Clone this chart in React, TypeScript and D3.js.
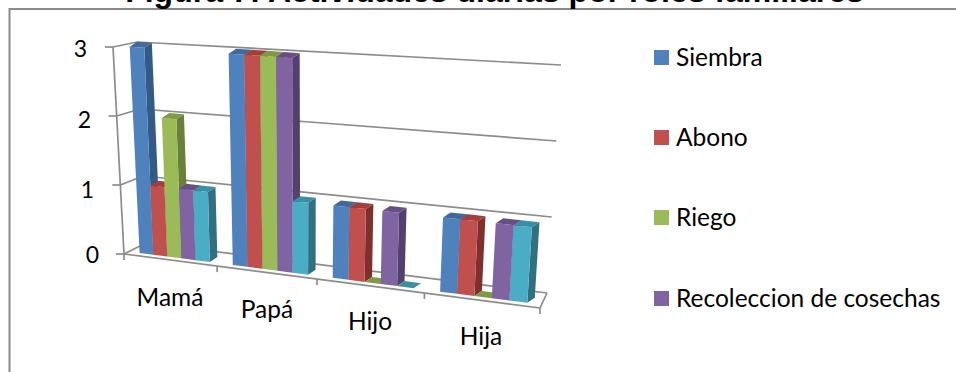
import React from "react";
import * as d3 from "d3";

// Chart content
const titleText = "Figura 7: Actividades diarias por roles familiares";
const categories = ["Mamá", "Papá", "Hijo", "Hija"];
const seriesKeys = ["siembra", "abono", "riego", "recoleccion", "otros"];
const legendLabels = ["Siembra", "Abono", "Riego", "Recoleccion de cosechas"];
const siembra = [3, 3, 1, 1];
const abono = [1, 3, 1, 1];
const riego = [2, 3, 0, 0];
const recoleccion = [1, 3, 1, 1];
const otros = [1, 1, 0, 1];
const seriesValues = [siembra, abono, riego, recoleccion, otros];
const valueTicks = [0, 1, 2, 3];

// Office-style 3D column palette: front, top and side shades
const faceColors = ["#4f81bd", "#c0504d", "#9bbb59", "#8064a2", "#4bacc6"];
const topColors = ["#41699b", "#a23f3c", "#7e9a45", "#674f86", "#3a8fa6"];
const sideColors = ["#355a88", "#7f2f2e", "#68803a", "#54406f", "#30707f"];
const gridColor = "#8c8c8c";
const fontFamily = "Lato, 'Open Sans', sans-serif";

type Pt = [number, number];

// Corners of the plot box: f = front, b = back, l/r = left/right, 0/3 = value
const fl0: Pt = [124, 254];
const fl3: Pt = [113, 47];
const bl0: Pt = [146, 243];
const bl3: Pt = [137, 42];
const fr0: Pt = [540, 308];
const fr3: Pt = [555, 80];
const br0: Pt = [547, 293];
const br3: Pt = [561, 65];

const mix = (a: Pt, b: Pt, t: number): Pt => [a[0] + (b[0] - a[0]) * t, a[1] + (b[1] - a[1]) * t];

const valueScale = d3.scaleLinear().domain([0, 3]).range([0, 1]);
const categoryScale = d3.scaleBand<string>().domain(categories).range([0, 1]);
const seriesScale = d3.scaleBand<string>().domain(seriesKeys).range([0.12, 0.88]);

// Horizontal foreshortening: categories grow wider toward the right of the box
const foreshorten = (u: number) => u / (u + (1 - u) * 1.155);

function project(u: number, value: number, depth: number): Pt {
  const s = foreshorten(u);
  const v = valueScale(value);
  const front = mix(mix(fl0, fr0, s), mix(fl3, fr3, s), v);
  const back = mix(mix(bl0, br0, s), mix(bl3, br3, s), v);
  return mix(front, back, depth);
}

const barDepth = 0.22;
const sideOffset: Pt = [7.5, -5];
const shift = (p: Pt): Pt => [p[0] + sideOffset[0], p[1] + sideOffset[1]];
const path = d3.line<Pt>().curve(d3.curveLinearClosed);
const segment = d3.line<Pt>();

function Bar({ c, s }: { c: number; s: number }) {
  const value = seriesValues[s][c];
  const catStart = categoryScale(categories[c])! as number;
  const w = categoryScale.bandwidth();
  const u0 = catStart + w * (seriesScale(seriesKeys[s])! as number);
  const u1 = u0 + w * seriesScale.bandwidth();
  const bl = project(u0, 0, barDepth);
  const br = project(u1, 0, barDepth);
  const tl = project(u0, value, barDepth);
  const tr = project(u1, value, barDepth);
  return (
    <g>
      {value > 0 && <path d={path([br, shift(br), shift(tr), tr])!} fill={sideColors[s]} />}
      {value > 0 && <path d={path([bl, br, tr, tl])!} fill={faceColors[s]} />}
      <path d={path([tl, tr, shift(tr), shift(tl)])!} fill={topColors[s]} />
    </g>
  );
}

const categoryLabelPos: Pt[] = [[170, 306], [267, 318], [370, 330], [481, 345]];
const tickLabelRight = [99, 94, 91, 87];
const tickLabelBase = [263, 198, 128, 57];
const legendTop = [50, 130, 210, 291];

export default function App() {
  const line = (a: Pt, b: Pt, key: string) => (
    <path key={key} d={segment([a, b])!} fill="none" stroke={gridColor} strokeWidth={1.7} />
  );
  return (
    <svg
      width={956}
      height={372}
      viewBox="0 0 956 372"
      style={{ position: "absolute", left: 0, top: 0, display: "block", background: "#fff" }}
    >
      {/* chart frame: only the top and left edges fall inside the view */}
      <path d="M9.5,372V9H956" fill="none" stroke="#8a8a8a" strokeWidth={2} />
      <text
        x={494.5}
        y={1.5}
        textAnchor="middle"
        fontFamily="'Liberation Sans', Arial, sans-serif"
        fontWeight={700}
        fontSize={32}
        fill="#000"
      >
        {titleText}
      </text>

      {/* walls and floor */}
      {valueTicks.map((t) => {
        const a = project(0, t, 0);
        const b = project(0, t, 1);
        const c = project(1, t, 1);
        return (
          <g key={t}>
            {line([a[0] - 8, a[1]], a, `tick${t}`)}
            {line(a, b, `side${t}`)}
            {line(b, c, `back${t}`)}
          </g>
        );
      })}
      {line(project(0, 0, 0), project(0, 3, 0), "axis")}
      {line(project(0, 0, 0), project(1, 0, 0), "front")}
      {line(project(1, 0, 0), project(1, 0, 1), "right")}
      {d3.range(categories.length + 1).map((i) => {
        const p = project(i / categories.length, 0, 0);
        return line(p, [p[0], p[1] + 6], `cat${i}`);
      })}

      {/* columns, painted left to right so each face covers its neighbour's side */}
      {categories.map((_, c) => seriesKeys.map((_, s) => <Bar key={`${c}-${s}`} c={c} s={s} />))}

      {valueTicks.map((t, i) => (
        <text key={t} x={tickLabelRight[i]} y={tickLabelBase[i]} textAnchor="end" fontFamily={fontFamily} fontSize={23} fill="#000">
          {t}
        </text>
      ))}
      {categories.map((name, i) => (
        <text key={name} x={categoryLabelPos[i][0]} y={categoryLabelPos[i][1]} textAnchor="middle" fontFamily={fontFamily} fontSize={24.5} fill="#000">
          {name}
        </text>
      ))}
      {legendLabels.map((name, i) => (
        <g key={name}>
          <rect x={654} y={legendTop[i]} width={15} height={15} fill={faceColors[i]} />
          <text x={676} y={legendTop[i] + 16} fontFamily={fontFamily} fontSize={24.5} fill="#000">
            {name}
          </text>
        </g>
      ))}
    </svg>
  );
}
